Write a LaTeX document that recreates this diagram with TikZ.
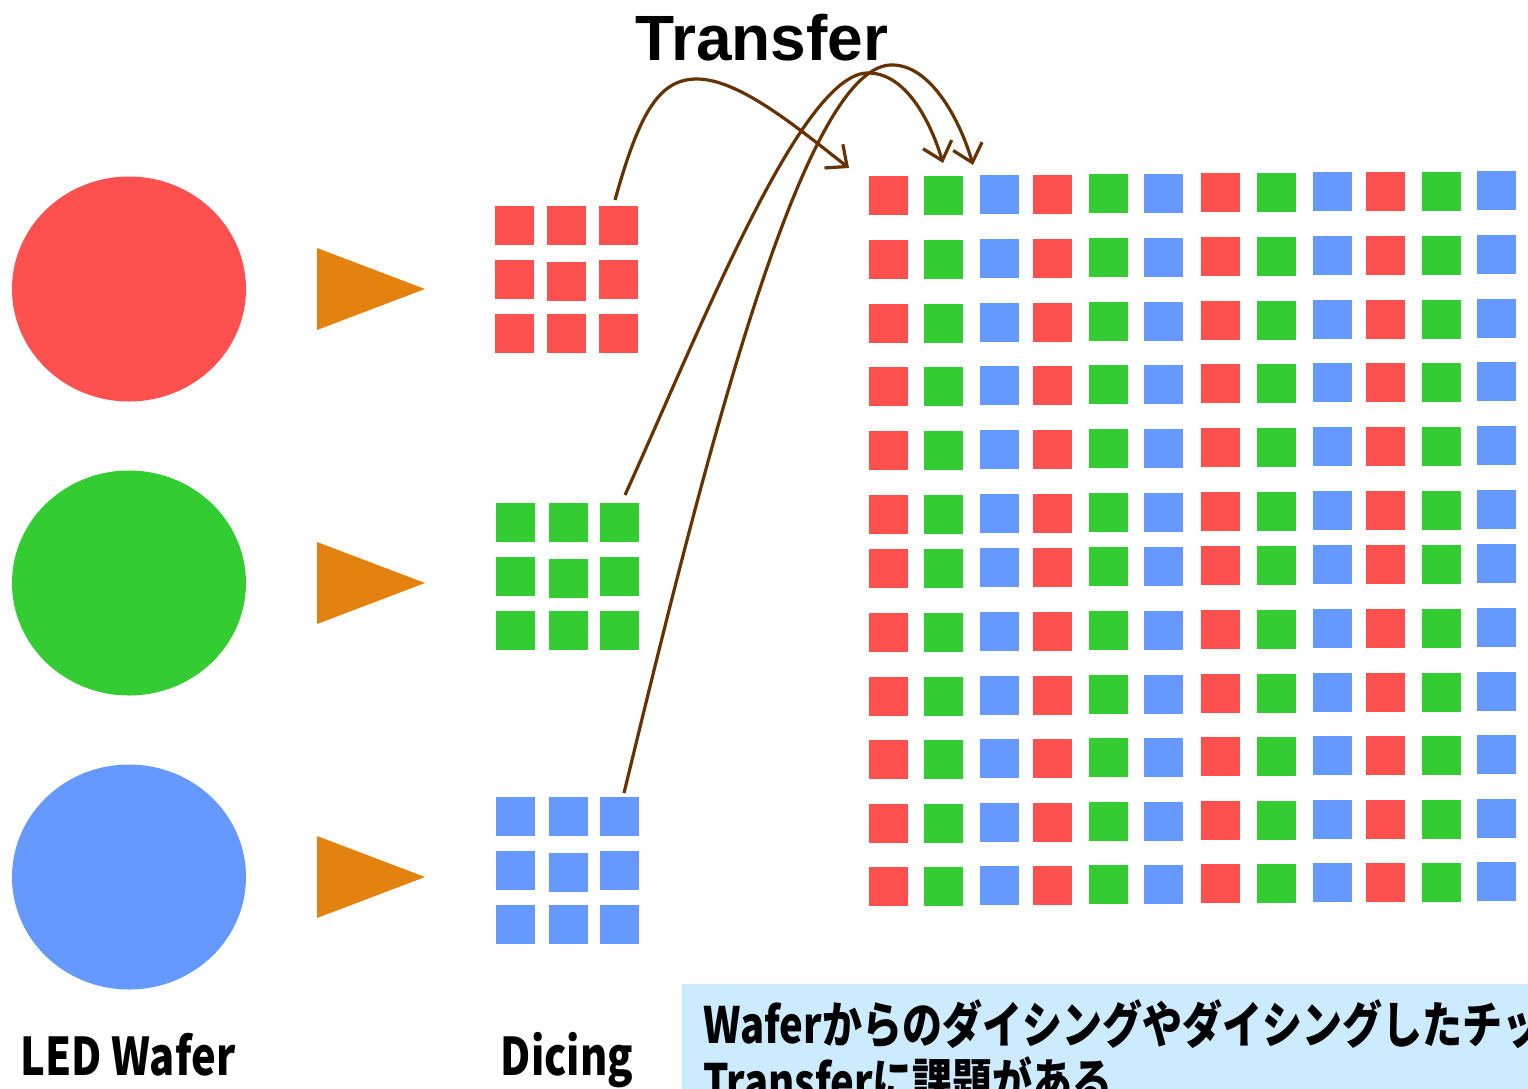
\documentclass[tikz,border=0pt]{standalone}
\usepackage{fontspec}
\setmainfont{Liberation Sans}
\newfontfamily\jpfont[FakeStretch=0.8]{Noto Sans CJK JP}
\usetikzlibrary{arrows.meta,shapes.geometric}
\definecolor{col0}{HTML}{FF5050}
\definecolor{col1}{HTML}{33CC33}
\definecolor{col2}{HTML}{6699FF}
\definecolor{corange}{HTML}{E4820F}
\definecolor{cbrown}{HTML}{663300}
\definecolor{cbox}{HTML}{CCEBFF}
\begin{document}
\begin{tikzpicture}[x=1pt,y=-1pt,
  chip/.style={rectangle, minimum size=39pt, inner sep=0pt, outer sep=0pt, anchor=north west},
  wafer/.style={ellipse, minimum width=234pt, minimum height=225pt, inner sep=0pt},
  pointer/.style={fill=corange},
  conn/.style={draw=cbrown, line width=3.2pt, -{Straight Barb[length=17pt,width=30pt,line width=3.2pt]}},
  label/.style={font=\jpfont\bfseries\fontsize{52}{60}\selectfont, inner sep=0pt, anchor=base},
  notetext/.style={font=\jpfont\bfseries\fontsize{50}{57}\selectfont, inner sep=0pt, anchor=base west}]
\useasboundingbox (0,0) rectangle (1528,1088);
\clip (0,0) rectangle (1528,1088);
\fill[white] (0,0) rectangle (1528,1088);

% wafers
\node[wafer, fill=col0] (wr) at (129,289) {};
\node[wafer, fill=col1] (wg) at (129,583) {};
\node[wafer, fill=col2] (wb) at (129,877) {};

% pointers
\fill[pointer] (317,248) -- (425,289) -- (317,330) -- cycle;
\fill[pointer] (317,542) -- (425,583) -- (317,624) -- cycle;
\fill[pointer] (317,836) -- (425,877) -- (317,918) -- cycle;

% diced chips
\foreach \c/\x in {1/495,2/547,3/599}{
  \foreach \r/\y in {1/206,2/260,3/314}{
    \node[chip, fill=col0] (r\r\c) at (\x,{\y+(\r==2 && \c==2 ? 2 : 0)}) {};
  }}
\foreach \c/\x in {1/496,2/549,3/600}{
  \foreach \r/\y in {1/503,2/557,3/611}{
    \node[chip, fill=col1] (g\r\c) at (\x,{\y+(\r==2 && \c==2 ? 2 : 0)}) {};
  }}
\foreach \c/\x in {1/496,2/549,3/600}{
  \foreach \r/\y in {1/797,2/851,3/905}{
    \node[chip, fill=col2] (b\r\c) at (\x,{\y+(\r==2 && \c==2 ? 2 : 0)}) {};
  }}

% display grid
\foreach \r/\y in {1/176,2/240,3/304,4/367,5/431,6/495,7/549,8/613,9/677,10/740,11/804,12/867}{
  \foreach \c/\x in {1/869,2/924,3/980,4/1033,5/1089,6/1144,7/1201,8/1257,9/1313,10/1366,11/1422,12/1477}{
    \pgfmathtruncatemacro\k{mod(\c-1,3)}
    \node[chip, fill=col\k] (p\r-\c) at (\x,{\y-0.45*(\c-1)}) {};
  }}

% labels
\node[font=\bfseries\fontsize{64}{70}\selectfont, inner sep=0pt, anchor=base] (title) at (762,60) {Transfer};
\node[label] (lw) at (128,1075) {LED Wafer};
\node[label] (ld) at (567,1075) {Dicing};

% note box
\node[fill=cbox, anchor=north west, minimum width=900pt, minimum height=150pt, inner sep=0pt] (note) at (682,984) {};
\node[notetext] (note1) at (703,1043) {Waferからのダイシングやダイシングしたチップの};
\node[notetext] (note2) at (703,1100) {Transferに課題がある};

% transfer arrows
\coordinate (a1s) at (615,200);
\coordinate (a1e) at (849,168);
\coordinate (a2s) at (625,495);
\coordinate (a2e) at (943,163);
\coordinate (a3s) at (624,793);
\coordinate (a3e) at (973,165);
\draw[conn] (a1s) .. controls (640,110) and (660,79) .. (697,79) .. controls (740,79) and (800,130) .. (a1e);
\draw[conn] (a2s) .. controls (700,330) and (800,75) .. (867,73) .. controls (905,72) and (930,120) .. (a2e);
\draw[conn] (a3s) .. controls (700,480) and (800,70) .. (890,65) .. controls (930,63) and (960,120) .. (a3e);
\end{tikzpicture}
\end{document}
